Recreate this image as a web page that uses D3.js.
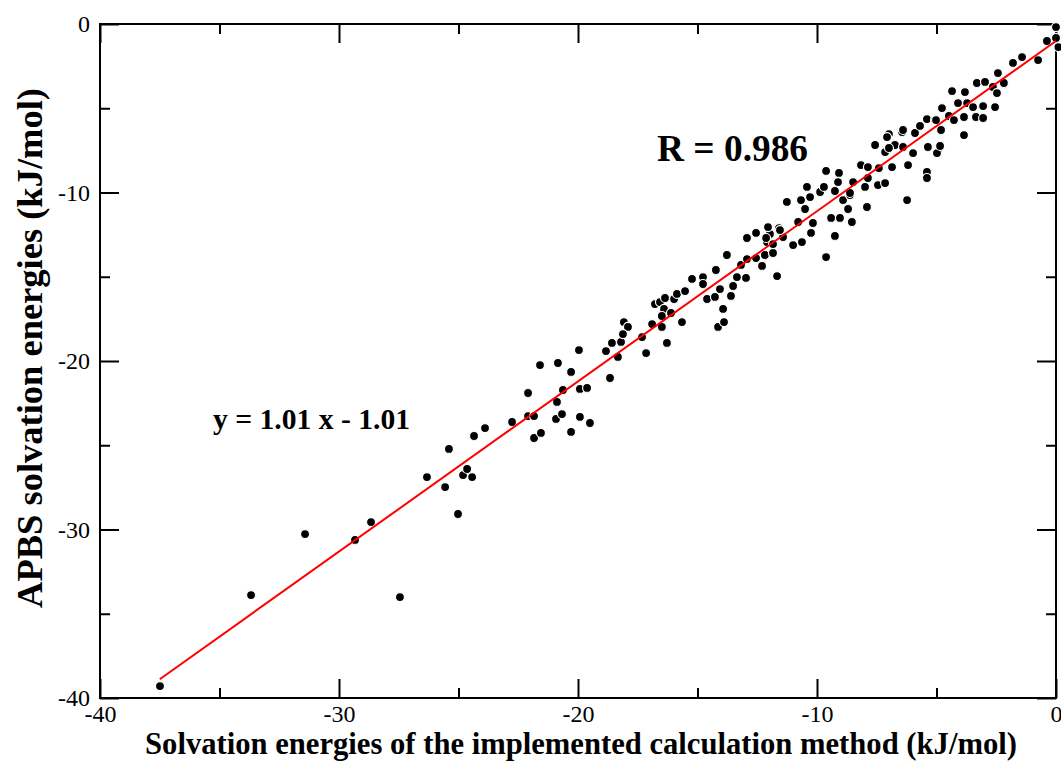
<!DOCTYPE html>
<html>
<head>
<meta charset="utf-8">
<script src="https://cdn.jsdelivr.net/npm/d3@7"></script>
<style>
  body { margin: 0; background: #fff; }
  text { font-family: "Liberation Serif", "Times New Roman", serif; fill: #000; }
</style>
</head>
<body>
<div id="chart"></div>
<script>
// solvation energies from the implemented method (x) and APBS (y), kJ/mol
const implEnergies = [
  -37.49, -33.68, -31.42, -29.33, -28.66, -27.45, -26.32, -25.56, -25.40, -25.02,
  -24.81, -24.64, -24.43, -24.35, -23.89, -22.76, -22.09, -22.09, -21.84, -21.84,
  -21.55, -21.59, -20.84, -20.29, -20.63, -20.88, -20.92, -20.67, -20.29, -19.96,
  -19.92, -19.62, -19.92, -19.50, -18.83, -18.66, -18.58, -18.20, -18.33, -18.08,
  -17.91, -18.12, -17.32, -17.15, -16.90, -16.49, -16.28, -16.78, -16.57, -16.36,
  -15.98, -15.86, -16.40, -16.11, -16.49, -15.65, -15.52, -15.23, -14.77, -14.77,
  -14.60, -14.23, -14.27, -14.06, -13.93, -14.14, -13.89, -13.77, -13.60, -13.51,
  -13.35, -13.18, -12.97, -12.93, -12.55, -12.55, -12.30, -12.18, -12.09, -11.97,
  -12.05, -11.84, -11.67, -11.59, -12.13, -11.84, -11.42, -11.55, -11.26, -11.00,
  -10.63, -10.79, -10.50, -10.67, -10.29, -10.42, -10.25, -10.17, -9.87, -9.71,
  -9.62, -9.62, -9.41, -9.25, -9.25, -9.08, -9.04, -9.12, -8.91, -8.70,
  -8.62, -8.54, -8.49, -8.16, -7.91, -7.99, -7.87, -7.87, -7.57, -7.45,
  -7.41, -7.15, -7.15, -6.86, -6.99, -6.74, -6.44, -6.23, -6.19, -5.98,
  -5.90, -7.07, -6.99, -6.40, -6.40, -5.69, -5.40, -5.36, -5.06, -4.77,
  -4.81, -4.94, -4.48, -4.35, -4.27, -4.10, -3.85, -3.85, -3.81, -3.72,
  -3.47, -3.35, -3.05, -3.05, -3.31, -2.97, -2.64, -2.55, -2.47, -2.43,
  -2.18, -1.80, -1.42, -0.75, -0.38, 0.0, 0.0, 0.1, -8.62, -5.40,
  -5.40, -4.98, -4.85, -5.02, -12.93, -12.30
];
const apbsEnergies = [
  -39.29, -33.89, -30.27, -30.62, -29.56, -34.01, -26.89, -27.48, -25.22, -29.08,
  -26.77, -26.41, -26.89, -24.45, -23.98, -23.62, -21.90, -23.27, -23.27, -24.57,
  -24.27, -20.24, -20.12, -20.65, -21.72, -22.43, -23.44, -23.15, -24.21, -19.35,
  -21.66, -21.60, -23.32, -23.68, -19.41, -21.01, -18.93, -18.87, -19.76, -17.69,
  -17.98, -18.40, -18.58, -19.53, -17.81, -17.98, -18.93, -16.62, -16.50, -16.26,
  -16.32, -16.02, -16.91, -17.15, -17.33, -17.69, -15.85, -15.13, -15.02, -15.43,
  -16.32, -14.60, -16.20, -15.73, -16.91, -17.98, -17.69, -13.71, -16.14, -15.55,
  -15.02, -14.30, -15.07, -12.70, -12.40, -13.89, -14.30, -13.71, -12.94, -12.46,
  -12.05, -13.59, -14.96, -12.11, -12.70, -13.06, -12.64, -12.23, -10.56, -13.12,
  -12.94, -11.75, -10.98, -10.45, -10.27, -9.67, -12.40, -11.81, -9.97, -9.67,
  -13.83, -8.72, -11.51, -12.58, -9.91, -8.84, -11.51, -9.38, -10.45, -10.98,
  -10.15, -11.75, -9.38, -8.37, -10.86, -9.67, -9.14, -8.49, -7.18, -9.56,
  -8.55, -9.44, -7.60, -8.49, -6.53, -7.18, -6.41, -10.45, -8.37, -7.66,
  -6.47, -6.71, -7.36, -6.29, -7.30, -6.05, -5.64, -7.30, -5.70, -4.99,
  -6.29, -7.60, -5.46, -3.98, -5.70, -4.69, -5.52, -6.59, -4.04, -4.69,
  -4.93, -5.52, -4.87, -5.58, -3.50, -3.44, -3.74, -4.93, -4.10, -2.91,
  -3.50, -2.31, -1.96, -2.14, -1.01, -0.18, -0.83, -1.37, -10.03, -8.78,
  -9.14, -7.66, -7.24, -5.70, -13.95, -14.36
];
const majorTicks = [-40, -30, -20, -10, 0];
const minorTicks = [-35, -25, -15, -5];
const fitSlope = 1.01;
const fitIntercept = -1.01;
const fitRange = [-37.5, 0];

const w = 1061;
const h = 762;
const padLeft = 100, padRight = 1056, padTop = 24, padBottom = 698;

const xScale = d3.scaleLinear().domain([-40, 0]).range([padLeft, padRight]);
const yScale = d3.scaleLinear().domain([-40, 0]).range([padBottom, padTop]);

const svg = d3.select("#chart")
  .append("svg")
  .attr("width", w)
  .attr("height", h);

// frame
svg.append("rect")
  .attr("x", padLeft)
  .attr("y", padTop)
  .attr("width", padRight - padLeft)
  .attr("height", padBottom - padTop)
  .attr("fill", "none")
  .attr("stroke", "#000")
  .attr("stroke-width", 2);

// axes: ticks point inward on all four sides
function styleAxis(g) {
  g.select(".domain").remove();
  g.selectAll(".tick line").attr("stroke", "#000").attr("stroke-width", 2);
  g.selectAll(".tick text").attr("font-size", "24px").attr("fill", "#000")
    .style("font-family", "'Liberation Serif', serif");
}
const fmt = d => String(d); // plain hyphen minus like the original

svg.append("g")
  .attr("transform", `translate(0, ${padBottom})`)
  .call(d3.axisBottom(xScale).tickValues(majorTicks).tickSize(-19).tickPadding(7).tickFormat(fmt))
  .call(styleAxis);
svg.append("g")
  .attr("transform", `translate(0, ${padBottom})`)
  .call(d3.axisBottom(xScale).tickValues(minorTicks).tickSize(-10).tickFormat(""))
  .call(styleAxis);
svg.append("g")
  .attr("transform", `translate(0, ${padTop})`)
  .call(d3.axisTop(xScale).tickValues(majorTicks).tickSize(-19).tickFormat(""))
  .call(styleAxis);
svg.append("g")
  .attr("transform", `translate(0, ${padTop})`)
  .call(d3.axisTop(xScale).tickValues(minorTicks).tickSize(-10).tickFormat(""))
  .call(styleAxis);

svg.append("g")
  .attr("transform", `translate(${padLeft}, 0)`)
  .call(d3.axisLeft(yScale).tickValues(majorTicks).tickSize(-19).tickPadding(10).tickFormat(fmt))
  .call(styleAxis);
svg.append("g")
  .attr("transform", `translate(${padLeft}, 0)`)
  .call(d3.axisLeft(yScale).tickValues(minorTicks).tickSize(-10).tickFormat(""))
  .call(styleAxis);
svg.append("g")
  .attr("transform", `translate(${padRight}, 0)`)
  .call(d3.axisRight(yScale).tickValues(majorTicks).tickSize(-19).tickFormat(""))
  .call(styleAxis);
svg.append("g")
  .attr("transform", `translate(${padRight}, 0)`)
  .call(d3.axisRight(yScale).tickValues(minorTicks).tickSize(-10).tickFormat(""))
  .call(styleAxis);

// points
const dataset = implEnergies.map((x, i) => [x, apbsEnergies[i]]);
svg.append("g")
  .selectAll("circle")
  .data(dataset)
  .enter()
  .append("circle")
  .attr("cx", d => xScale(d[0]))
  .attr("cy", d => yScale(d[1]))
  .attr("r", 4.5)
  .attr("fill", "#000")
  .attr("stroke", "#fff")
  .attr("stroke-width", 1.2);

// regression line
const fit = fitRange.map(x => [x, fitSlope * x + fitIntercept]);
svg.append("path")
  .datum(fit)
  .attr("d", d3.line().x(d => xScale(d[0])).y(d => yScale(d[1])))
  .attr("stroke", "#ff0000")
  .attr("stroke-width", 2)
  .attr("fill", "none");

// scale a label's font so it spans the given length
function fitText(sel, target) {
  const base = 30;
  sel.attr("font-size", base + "px");
  const len = sel.node().getComputedTextLength();
  sel.attr("font-size", (base * target / len).toFixed(2) + "px");
  return sel;
}

// annotations
svg.append("text")
  .attr("x", 657)
  .attr("y", 161)
  .attr("font-weight", "bold")
  .text("R = 0.986")
  .call(fitText, 151);

svg.append("text")
  .attr("x", 213)
  .attr("y", 429)
  .attr("font-weight", "bold")
  .text("y = 1.01 x - 1.01")
  .call(fitText, 197);

// axis titles
svg.append("text")
  .attr("x", 581)
  .attr("y", 754)
  .attr("text-anchor", "middle")
  .attr("font-weight", "bold")
  .text("Solvation energies of the implemented calculation method (kJ/mol)")
  .call(fitText, 872);

svg.append("text")
  .attr("x", -348)
  .attr("y", 42)
  .attr("text-anchor", "middle")
  .attr("transform", "rotate(-90)")
  .attr("font-weight", "bold")
  .text("APBS solvation energies (kJ/mol)")
  .call(fitText, 520);
</script>
</body>
</html>
